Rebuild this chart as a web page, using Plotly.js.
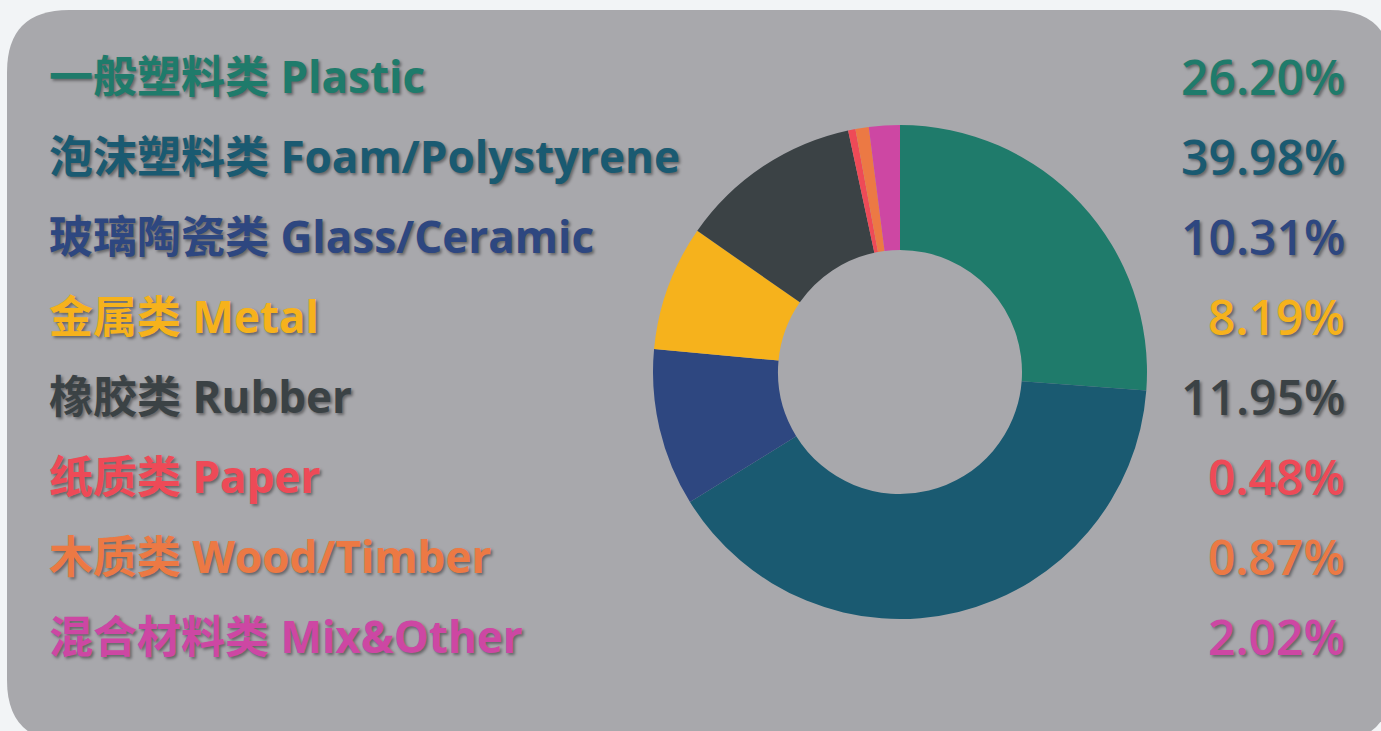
<!DOCTYPE html>
<html>
<head>
<meta charset="utf-8">
<script src="https://cdn.plot.ly/plotly-3.0.1.min.js"></script>
<style>
  html, body { margin: 0; padding: 0; background: #f2f4f6; overflow: hidden; }
  #chart { width: 1381px; height: 731px; }
</style>
</head>
<body>
<div id="chart"></div>
<script>
const categories = ["一般塑料类 Plastic", "泡沫塑料类 Foam/Polystyrene", "玻璃陶瓷类 Glass/Ceramic", "金属类 Metal", "橡胶类 Rubber", "纸质类 Paper", "木质类 Wood/Timber", "混合材料类 Mix&Other"];
const values = [26.20, 39.98, 10.31, 8.19, 11.95, 0.48, 0.87, 2.02];
const percentLabels = ["26.20%", "39.98%", "10.31%", "8.19%", "11.95%", "0.48%", "0.87%", "2.02%"];
const colors = ["#1f7b6b", "#1a5a71", "#2e4780", "#f6b21c", "#3b4245", "#ee4a57", "#ec7944", "#cd47a3"];

const W = 1381, H = 731;
const px = x => x / W;
const py = y => 1 - y / H;

function roundedRect(x0, y0, x1, y1, r) {
  const P = (x, y) => px(x) + "," + py(y);
  return "M" + P(x0 + r, y0) +
    " L" + P(x1 - r, y0) + " Q" + P(x1, y0) + " " + P(x1, y0 + r) +
    " L" + P(x1, y1 - r) + " Q" + P(x1, y1) + " " + P(x1 - r, y1) +
    " L" + P(x0 + r, y1) + " Q" + P(x0, y1) + " " + P(x0, y1 - r) +
    " L" + P(x0, y0 + r) + " Q" + P(x0, y0) + " " + P(x0 + r, y0) + " Z";
}

const cx = 900, cy = 372, R = 247;
const trace = {
  type: "pie",
  values: values,
  labels: categories,
  marker: { colors: colors, line: { width: 0 } },
  hole: 0.494,
  sort: false,
  direction: "clockwise",
  rotation: 0,
  textinfo: "none",
  hoverinfo: "label+percent",
  showlegend: false,
  domain: { x: [px(cx - R), px(cx + R)], y: [py(cy + R), py(cy - R)] }
};

const shadow = "2px 2px 3px rgba(0,0,0,0.4)";
const annotations = [];
categories.forEach((c, i) => {
  const yc = 76 + 80 * i;
  annotations.push({
    xref: "paper", yref: "paper", x: px(47), y: py(yc),
    xanchor: "left", yanchor: "middle", showarrow: false,
    text: c,
    font: { family: "'Open Sans', 'Noto Sans CJK SC', sans-serif", size: 44, color: colors[i], weight: 700, shadow: shadow }
  });
  annotations.push({
    xref: "paper", yref: "paper", x: px(1347), y: py(yc),
    xanchor: "right", yanchor: "middle", showarrow: false,
    text: percentLabels[i],
    font: { family: "'Open Sans', sans-serif", size: 48, color: colors[i], weight: 600, shadow: shadow }
  });
});

const layout = {
  width: W, height: H,
  margin: { l: 0, r: 0, t: 0, b: 0 },
  paper_bgcolor: "#f2f4f6",
  plot_bgcolor: "rgba(0,0,0,0)",
  shapes: [{
    type: "path", xref: "paper", yref: "paper", layer: "below",
    path: roundedRect(7, 10, 1392, 742, 62),
    fillcolor: "#a8a8ac", line: { width: 0 }
  }],
  annotations: annotations
};

Plotly.newPlot("chart", [trace], layout, { displayModeBar: false, staticPlot: true });
</script>
</body>
</html>
